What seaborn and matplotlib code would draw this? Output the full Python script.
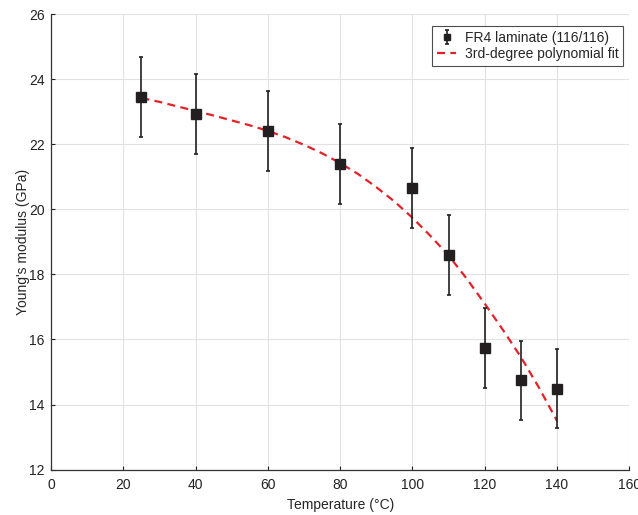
import seaborn as sns
import matplotlib.pyplot as plt
import pandas as pd

temps = [25, 40, 60, 80, 100, 110, 120, 130, 140]
modulus = [23.45, 22.92, 22.41, 21.39, 20.65, 18.59, 15.74, 14.74, 14.49]
err = [1.23, 1.23, 1.22, 1.23, 1.23, 1.22, 1.22, 1.22, 1.22]

# fitted curve as drawn
fit_x = [25, 30, 35, 40, 45, 50, 55, 60, 65, 70, 75, 80, 85, 90, 95, 100,
         105, 110, 115, 120, 125, 130, 135, 140]
fit_y = [23.42, 23.30, 23.16, 23.02, 22.88, 22.73, 22.58, 22.41, 22.21, 21.98,
         21.72, 21.42, 21.08, 20.68, 20.24, 19.74, 19.18, 18.58, 17.87, 17.10,
         16.30, 15.46, 14.52, 13.50]

sns.set_style("whitegrid")
plt.rcParams['font.family'] = ['Liberation Sans', 'DejaVu Sans']

fig = plt.figure(figsize=(6.38, 5.15), dpi=100)
ax = fig.add_axes([0.08, 0.088, 0.9064, 0.8848])

fit_df = pd.DataFrame({"T": fit_x, "E": fit_y})
sns.lineplot(data=fit_df, x="T", y="E", ax=ax, color="#e32228", linewidth=1.6,
             dashes=False, label="3rd-degree polynomial fit", zorder=3)
ax.lines[-1].set_linestyle((0, (3.6, 2.4)))

eb = ax.errorbar(temps, modulus, yerr=err, fmt="s", color="#231f20",
                 markersize=6.5, capsize=1.6, elinewidth=1.2, capthick=1.2,
                 label="FR4 laminate (116/116)", zorder=4)

ax.set_xlim(0, 160)
ax.set_ylim(12, 26)
ax.set_xticks(range(0, 161, 20))
ax.set_yticks(range(12, 27, 2))
ax.grid(True, color="#e2e2e2", linewidth=0.8)
ax.set_xlabel("Temperature (°C)", fontsize=10, labelpad=4)
ax.set_ylabel("Young's modulus (GPa)", fontsize=10, labelpad=-1)
ax.tick_params(axis="both", direction="in", length=3, width=0.8, labelsize=10,
               colors="#222222", left=True, bottom=True)
ax.tick_params(axis="x", pad=6)
ax.tick_params(axis="y", pad=4.5)
for side in ["top", "right"]:
    ax.spines[side].set_visible(False)
for side in ["left", "bottom"]:
    ax.spines[side].set_color("#333333")
    ax.spines[side].set_linewidth(0.9)

handles, labels = ax.get_legend_handles_labels()
order = [labels.index("FR4 laminate (116/116)"), labels.index("3rd-degree polynomial fit")]
leg = ax.legend([handles[i] for i in order], [labels[i] for i in order],
                loc="upper right", bbox_to_anchor=(0.9896, 0.9743), fontsize=10,
                frameon=True, fancybox=False, edgecolor="#222222",
                handlelength=1.4, handletextpad=0.6, borderpad=0.35,
                labelspacing=0.2, markerscale=0.6, borderaxespad=0)
leg.get_frame().set_linewidth(0.8)

fig.savefig("out.png", dpi=100)
